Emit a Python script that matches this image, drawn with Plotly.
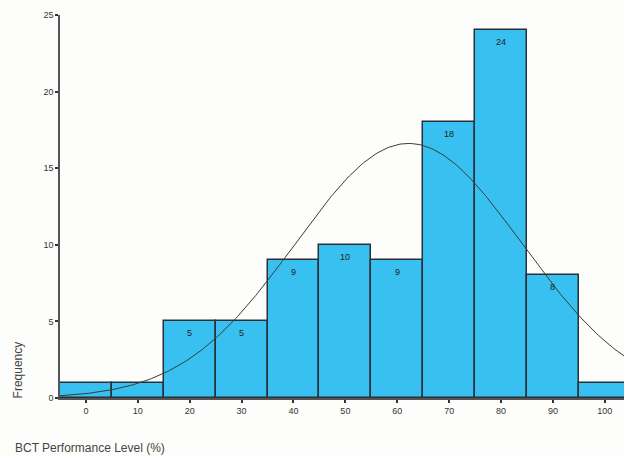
import numpy as np
import plotly.graph_objects as go

# Data
bin_centers = [0, 10, 20, 30, 40, 50, 60, 70, 80, 90, 100]
frequencies = [1, 1, 5, 5, 9, 10, 9, 18, 24, 8, 1]
x_ticks = [0, 10, 20, 30, 40, 50, 60, 70, 80, 90, 100]
y_ticks = [0, 5, 10, 15, 20, 25]
bin_width = 10

# Fitted normal curve (derived from the histogram data, as SPSS draws it)
centers = np.array(bin_centers, dtype=float)
freqs = np.array(frequencies, dtype=float)
n = freqs.sum()
mean = (centers * freqs).sum() / n
sd = np.sqrt(((centers - mean) ** 2 * freqs).sum() / (n - 1))
xc = np.linspace(-5, 110, 300)
yc = n * bin_width / (sd * np.sqrt(2 * np.pi)) * np.exp(-0.5 * ((xc - mean) / sd) ** 2)

fig = go.Figure()
fig.add_trace(go.Bar(
    x=bin_centers, y=frequencies, width=bin_width,
    marker=dict(color="#38C0F0", line=dict(color="#2b2f36", width=1.5)),
    hoverinfo="x+y", showlegend=False,
))
fig.add_trace(go.Scatter(
    x=xc, y=yc, mode="lines",
    line=dict(color="#3a3a3a", width=1), showlegend=False, hoverinfo="skip",
))

for xv, fv in zip(bin_centers, frequencies):
    if fv > 1:
        fig.add_annotation(x=xv, y=fv, text=str(fv), showarrow=False,
                           yshift=-12, font=dict(size=9, color="#222", family="Liberation Sans"))

fig.add_annotation(text="Frequency", xref="paper", yref="paper", x=-0.0745, y=-0.005,
                   xanchor="center", yanchor="bottom", textangle=-90, showarrow=False,
                   font=dict(size=12, color="#444", family="Liberation Sans"))
fig.add_annotation(text="BCT Performance Level (%)", xref="paper", yref="paper", x=-0.083, y=-0.108,
                   xanchor="left", yanchor="top", showarrow=False,
                   font=dict(size=12, color="#444", family="Liberation Sans"))

fig.update_layout(
    width=624, height=456,
    margin=dict(l=60, r=0, t=15, b=58),
    paper_bgcolor="#fdfdfb", plot_bgcolor="#fdfdfb",
    bargap=0,
    font=dict(family="Liberation Sans", size=9, color="#333"),
)
fig.update_xaxes(
    range=[-5, 103.7], tickvals=x_ticks, ticktext=[str(t) for t in x_ticks],
    showgrid=False, zeroline=False, showline=True, linecolor="#555", linewidth=1.5,
    ticks="outside", ticklen=3, tickwidth=2, tickcolor="#333",
)
fig.update_yaxes(
    range=[0, 25], tickvals=y_ticks, ticktext=[str(t) for t in y_ticks],
    showgrid=False, zeroline=False, showline=True, linecolor="#555", linewidth=1.5,
    ticks="outside", ticklen=3, tickwidth=2, tickcolor="#333",
)

fig.write_html(
    "out.html",
    config={"displayModeBar": False},
    post_script="document.body.style.margin='0';document.body.style.overflow='hidden';",
)
